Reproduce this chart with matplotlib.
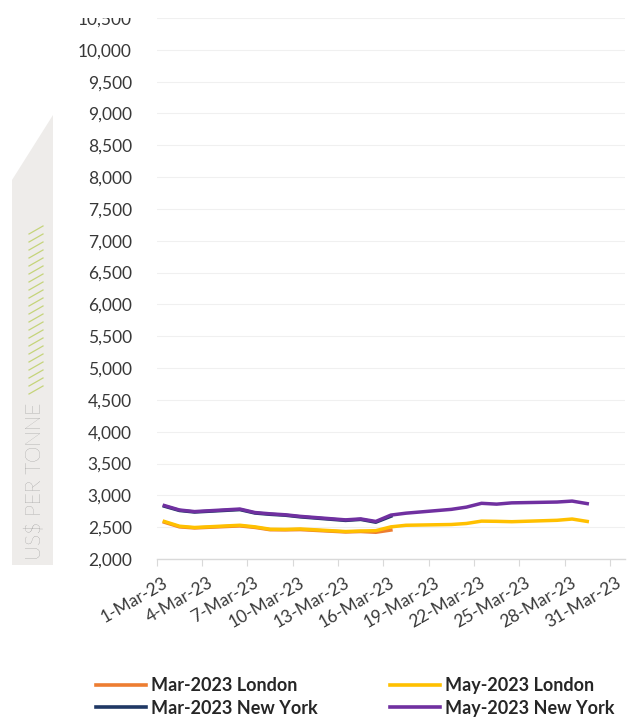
import numpy as np
import matplotlib.pyplot as plt
from matplotlib.patches import Polygon, Rectangle
from matplotlib.lines import Line2D
import matplotlib.transforms as mtransforms

# === Data: trading days of March 2023 ===
days_may = [1, 2, 3, 6, 7, 8, 9, 10, 13, 14, 15, 16, 17, 20, 21, 22, 23, 24, 27, 28, 29]
may_ny = [2840, 2770, 2745, 2785, 2730, 2710, 2695, 2670, 2615, 2630, 2590, 2690, 2720,
          2780, 2815, 2875, 2862, 2882, 2895, 2910, 2870]
may_london = [2590, 2515, 2495, 2530, 2505, 2468, 2465, 2472, 2432, 2440, 2445, 2505, 2530,
              2542, 2558, 2595, 2592, 2586, 2608, 2628, 2590]

days_mar = [1, 2, 3, 6, 7, 8, 9, 10, 13, 14, 15, 16]
mar_ny = [2830, 2762, 2738, 2776, 2722, 2702, 2688, 2662, 2606, 2622, 2578, 2672]
mar_london = [2578, 2505, 2488, 2520, 2496, 2460, 2458, 2462, 2425, 2432, 2420, 2455]

tick_days = [1, 4, 7, 10, 13, 16, 19, 22, 25, 28, 31]
tick_labels = [f"{d}-Mar-23" for d in tick_days]
y_ticks = list(range(2000, 10501, 500))

colors = {
    "Mar-2023 London": "#ED7D31",
    "Mar-2023 New York": "#1F3864",
    "May-2023 London": "#FFC000",
    "May-2023 New York": "#7030A0",
}

# === Figure ===
fig = plt.figure(figsize=(6.43, 7.21), dpi=100)
W, H = 643, 721
ax = fig.add_axes([156.8 / W, 1 - 559 / H, (625 - 156.8) / W, (559 - 18) / H])

lw = 2.5
ax.plot(days_mar, mar_london, color=colors["Mar-2023 London"], lw=lw, zorder=3)
ax.plot(days_may, may_london, color=colors["May-2023 London"], lw=lw, zorder=4)
ax.plot(days_mar, mar_ny, color=colors["Mar-2023 New York"], lw=lw, zorder=3)
ax.plot(days_may, may_ny, color=colors["May-2023 New York"], lw=lw, zorder=4)

ax.set_xlim(0.5, 31.5)
ax.set_ylim(2000, 10500)
ax.set_yticks(y_ticks)
ax.set_yticklabels([f"{v:,}" for v in y_ticks])
ax.set_xticks([d - 0.5 for d in tick_days])
ax.set_xticklabels(tick_labels, rotation=30, ha="right", rotation_mode="anchor")

for s in ["top", "right", "left"]:
    ax.spines[s].set_visible(False)
ax.spines["bottom"].set_color("#d9d9d9")
ax.spines["bottom"].set_linewidth(1.0)
ax.grid(axis="y", color="#f0f0f0", lw=0.8)
ax.set_axisbelow(True)
ax.tick_params(axis="y", length=0, pad=18, labelsize=12.5, labelcolor="#383838")
ax.tick_params(axis="x", length=5, color="#d9d9d9", pad=6, labelsize=12.5,
               labelcolor="#383838")
for lab in ax.get_yticklabels() + ax.get_xticklabels():
    lab.set_fontfamily("Lato")
shift = mtransforms.ScaledTranslation(6 / 100, 0, fig.dpi_scale_trans)
for lab in ax.get_xticklabels():
    lab.set_transform(lab.get_transform() + shift)

# === Left decoration panel ===
panel = Polygon([(12 / W, 1 - 565 / H), (53 / W, 1 - 565 / H), (53 / W, 1 - 115 / H),
                 (12 / W, 1 - 180 / H)], closed=True, transform=fig.transFigure,
                facecolor="#eeecea", edgecolor="none", zorder=0)
fig.patches.append(panel)
fig.text(35 / W, 1 - 560 / H, "US$ PER TONNE", rotation=90, ha="center", va="bottom",
         fontsize=15, color="#7a7a7a", family="Lato", fontweight="light")
for yy in np.arange(230, 392, 8):
    fig.lines.append(Line2D([29 / W, 43 / W], [1 - (yy + 4) / H, 1 - (yy - 4) / H],
                            transform=fig.transFigure, color="#c5d47a", lw=0.9))

# === Hide top of clipped label ===
fig.patches.append(Rectangle((0, 1 - 18 / H), 1, 18 / H, transform=fig.transFigure,
                             facecolor="white", edgecolor="none", zorder=10))

# === Legend ===
order = ["Mar-2023 London", "Mar-2023 New York", "May-2023 London", "May-2023 New York"]
handles = [Line2D([], [], color=colors[k], lw=2.6) for k in order]
leg = fig.legend(handles, order, ncol=2, loc="center", bbox_to_anchor=(355 / W, 1 - 697 / H),
                 frameon=False, handlelength=2.8, handletextpad=0.25, columnspacing=4.0,
                 labelspacing=0.3, prop={"family": "Lato", "weight": "bold", "size": 13})
for t in leg.get_texts():
    t.set_color("#262626")

fig.savefig("out.png", dpi=100)
